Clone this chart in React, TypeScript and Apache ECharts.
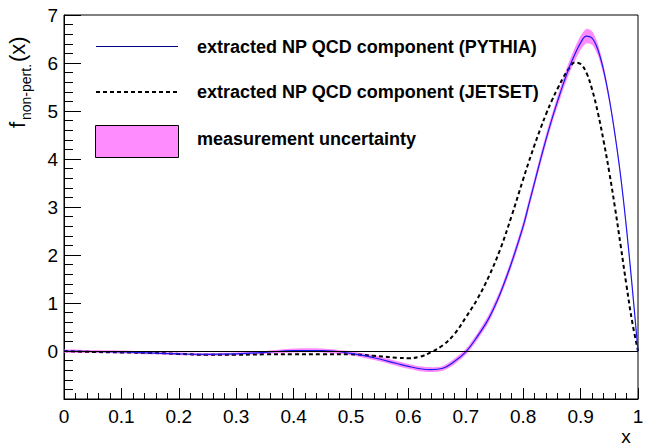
import React, { useEffect, useRef } from "react";
import * as echarts from "echarts";

const FONT = "'Liberation Sans', Arial, Helvetica, sans-serif";

const xs = [0, 0.05, 0.1, 0.15, 0.2, 0.25, 0.3, 0.35, 0.4, 0.45, 0.5, 0.54, 0.58, 0.6, 0.62, 0.64, 0.66, 0.68, 0.7, 0.72, 0.74, 0.76, 0.78, 0.8, 0.81, 0.82, 0.83, 0.84, 0.85, 0.86, 0.87, 0.88, 0.89, 0.9, 0.91, 0.92, 0.93, 0.94, 0.95, 0.96, 0.97, 0.98, 0.99, 1.0];

const pythia = [0, -0.01, -0.02, -0.04, -0.06, -0.07, -0.06, -0.03, 0.01, 0.01, -0.05, -0.14, -0.26, -0.32, -0.37, -0.39, -0.36, -0.22, -0.02, 0.3, 0.68, 1.2, 1.85, 2.6, 3.06, 3.52, 3.98, 4.42, 4.83, 5.21, 5.57, 5.9, 6.18, 6.42, 6.56, 6.52, 6.28, 5.85, 5.25, 4.5, 3.62, 2.55, 1.32, 0];

const jetset = [0, -0.02, -0.03, -0.04, -0.06, -0.08, -0.08, -0.07, -0.07, -0.07, -0.07, -0.1, -0.14, -0.15, -0.12, -0.02, 0.12, 0.35, 0.7, 1.08, 1.55, 2.12, 2.82, 3.58, 3.95, 4.3, 4.63, 4.94, 5.22, 5.47, 5.7, 5.89, 6.01, 5.98, 5.8, 5.45, 4.97, 4.38, 3.72, 2.98, 2.18, 1.36, 0.6, 0];

const uncertainty = [0.03, 0.03, 0.03, 0.03, 0.03, 0.03, 0.03, 0.03, 0.04, 0.04, 0.04, 0.05, 0.05, 0.05, 0.05, 0.05, 0.05, 0.06, 0.06, 0.07, 0.08, 0.08, 0.09, 0.1, 0.1, 0.1, 0.1, 0.1, 0.1, 0.11, 0.12, 0.13, 0.14, 0.15, 0.15, 0.14, 0.12, 0.1, 0.08, 0.07, 0.06, 0.05, 0.04, 0.03];

const legendLabels = [
  "extracted NP QCD component (PYTHIA)",
  "extracted NP QCD component (JETSET)",
  "measurement uncertainty",
];

export default function App() {
  const ref = useRef<HTMLDivElement>(null);
  useEffect(() => {
    if (!ref.current) return;
    const chart = echarts.init(ref.current, undefined, { renderer: "svg" });
    const axisLabel = { color: "#000", fontSize: 19, fontFamily: FONT };
    chart.setOption({
      animation: false,
      backgroundColor: "#fff",
      grid: { left: 64, right: 11, top: 15, bottom: 49, show: true, borderColor: "#000", borderWidth: 1, backgroundColor: "transparent" },
      xAxis: {
        type: "value", min: 0, max: 1, interval: 0.1,
        axisLine: { show: true, onZero: false, lineStyle: { color: "#000", width: 1 } },
        axisTick: { inside: true, length: 11, lineStyle: { color: "#000" } },
        minorTick: { show: true, splitNumber: 5, length: 6, lineStyle: { color: "#000" } },
        splitLine: { show: false },
        axisLabel: { ...axisLabel, margin: 8 },
      },
      yAxis: {
        type: "value", min: -1, max: 7, interval: 1,
        axisLine: { show: true, onZero: false, lineStyle: { color: "#000", width: 1 } },
        axisTick: { inside: true, length: 17, lineStyle: { color: "#000" } },
        minorTick: { show: true, splitNumber: 5, length: 9, lineStyle: { color: "#000" } },
        splitLine: { show: false },
        axisLabel: { ...axisLabel, margin: 6, formatter: (v: number) => (v < 0 ? "" : String(v)) },
      },
      series: [
        {
          name: legendLabels[2], type: "custom", coordinateSystem: "cartesian2d",
          data: [[0.5, 0]], silent: true, z: 1, clip: true,
          renderItem: (params: any, api: any) => {
            const up = xs.map((x, i) => api.coord([x, pythia[i] + uncertainty[i]]));
            const lo = xs.map((x, i) => api.coord([x, pythia[i] - uncertainty[i]])).reverse();
            return {
              type: "polygon",
              shape: { points: up.concat(lo), smooth: 0.25 },
              style: { fill: "#ff8cff", stroke: "none" },
            };
          },
        },
        {
          name: legendLabels[1], type: "line", data: xs.map((x, i) => [x, jetset[i]]),
          symbol: "none", smooth: 0.4, z: 3,
          lineStyle: { color: "#000", width: 2, type: [4, 3] },
          markLine: {
            silent: true, symbol: "none", label: { show: false },
            lineStyle: { color: "#000", width: 1, type: "solid" },
            data: [{ yAxis: 0 }],
          },
        },
        {
          name: legendLabels[0], type: "line", data: xs.map((x, i) => [x, pythia[i]]),
          symbol: "none", smooth: 0.4, z: 4,
          lineStyle: { color: "#1a1aee", width: 1.2 },
        },
      ],
      graphic: [
        { type: "line", shape: { x1: 96, y1: 46.5, x2: 178, y2: 46.5 }, style: { stroke: "#00008c", lineWidth: 1 } },
        { type: "line", shape: { x1: 96, y1: 92, x2: 178, y2: 92 }, style: { stroke: "#000", lineWidth: 2, lineDash: [4, 3] } },
        { type: "rect", shape: { x: 95.5, y: 125.5, width: 83, height: 32 }, style: { fill: "#ff8cff", stroke: "#000", lineWidth: 1 } },
        ...legendLabels.map((t, i) => ({
          type: "text", x: 197, y: [47, 92, 139][i],
          style: { text: t, fill: "#000", font: `bold 18px ${FONT}`, verticalAlign: "middle", align: "left" },
        })),
        {
          type: "text", x: 626, y: 436,
          style: { text: "x", fill: "#000", font: `19px ${FONT}`, align: "center", verticalAlign: "middle" },
        },
        {
          type: "group", x: 28, y: 128, rotation: Math.PI / 2,
          children: [
            { type: "text", x: 0, y: 0, style: { text: "f", fill: "#000", font: `22px ${FONT}`, verticalAlign: "bottom", align: "left" } },
            { type: "text", x: 8, y: 5, style: { text: "non-pert.", fill: "#000", font: `14px ${FONT}`, verticalAlign: "bottom", align: "left" } },
            { type: "text", x: 66, y: 0, style: { text: "(x)", fill: "#000", font: `22px ${FONT}`, verticalAlign: "bottom", align: "left" } },
          ],
        },
      ],
    });
    return () => chart.dispose();
  }, []);
  return <div ref={ref} style={{ width: 649, height: 448, position: "absolute", left: 0, top: 0 }} />;
}
